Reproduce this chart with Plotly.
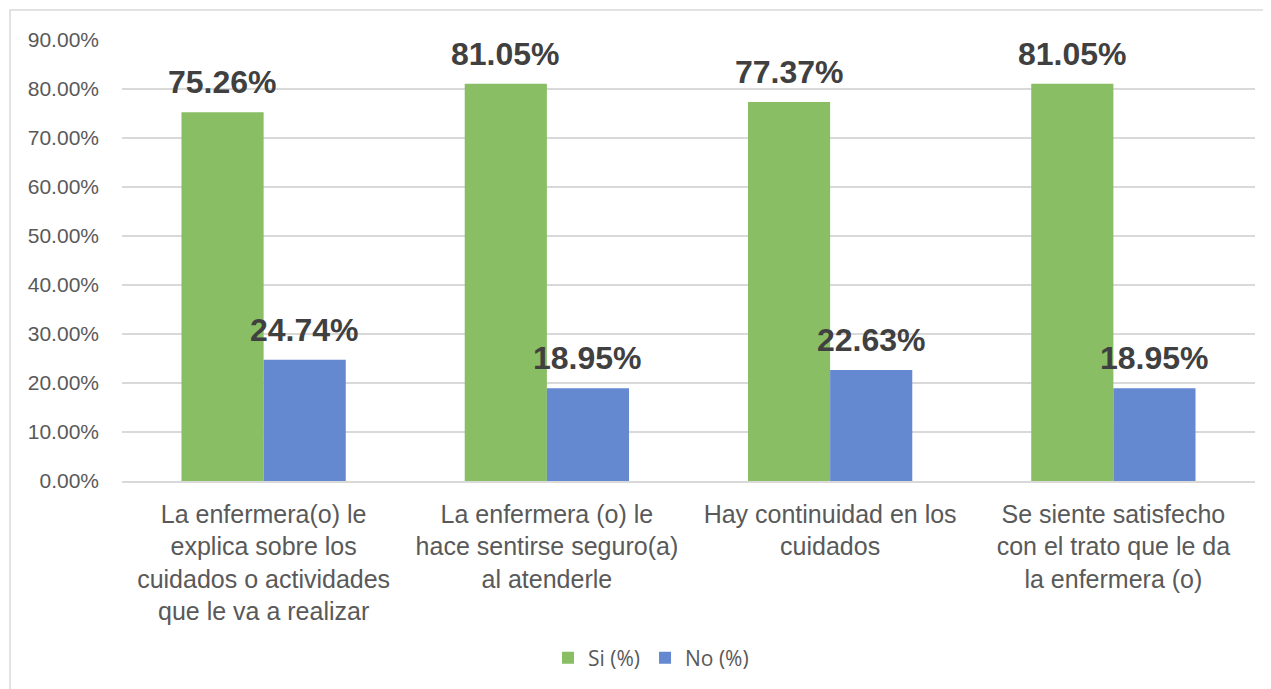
import plotly.graph_objects as go

categories = [
    "La enfermera(o) le<br>explica sobre los<br>cuidados o actividades<br>que le va a realizar",
    "La enfermera (o) le<br>hace sentirse seguro(a)<br>al atenderle",
    "Hay continuidad en los<br>cuidados",
    "Se siente satisfecho<br>con el trato que le da<br>la enfermera (o)",
]
si_values = [75.26, 81.05, 77.37, 81.05]
no_values = [24.74, 18.95, 22.63, 18.95]
series_names = ["Si (%)", "No (%)"]
tick_vals = [0, 10, 20, 30, 40, 50, 60, 70, 80, 90]
tick_text = [f"{v:.2f}%" for v in tick_vals]

OFF = 8  # page body margin
W, H = 1271 - OFF, 689 - OFF
L, R, T, B = 122 - OFF, 16, 40 - OFF, 208
pw = W - L - R
ph = H - T - B
BARGAP = 0.42
bar_px = pw / len(categories) * (1 - BARGAP) / 2

fig = go.Figure()
for name, vals, col, sh in [(series_names[0], si_values, "#89BE64", -1),
                            (series_names[1], no_values, "#6489D0", 1)]:
    fig.add_trace(go.Bar(
        x=categories, y=vals, name=name,
        marker=dict(color=col, line=dict(width=0)),
    ))
    for c, v in zip(categories, vals):
        fig.add_annotation(x=c, y=v, text=f"{v:.2f}%", showarrow=False,
                           xshift=sh * bar_px / 2, yshift=10, yanchor="bottom",
                           font=dict(family="Liberation Sans, Arial", size=32,
                                     color="#404040", weight="bold"))

fig.add_shape(type="rect", xref="paper", yref="paper",
              x0=(10 - OFF - L) / pw, x1=(W + 5 - L) / pw,
              y0=(H - B - (H + 5)) / ph, y1=(H - B - (10 - OFF)) / ph,
              line=dict(color="#D9D9D9", width=1.5), fillcolor="rgba(0,0,0,0)", layer="below")

fig.update_layout(
    width=W, height=H,
    margin=dict(l=L, r=R, t=T, b=B, autoexpand=False),
    paper_bgcolor="white", plot_bgcolor="white",
    barmode="group", bargap=BARGAP, bargroupgap=0,
    font=dict(family="Liberation Sans, Arial", color="#595959"),
    legend=dict(orientation="h", x=(651 - 122) / 1133, xanchor="center",
                y=(H - B - (658 - OFF)) / ph, yanchor="middle",
                font=dict(family="Open Sans, Liberation Sans", size=21, color="#595959"),
                traceorder="normal"),
    xaxis=dict(tickfont=dict(size=25, color="#595959"), showline=True, linecolor="#D9D9D9",
               linewidth=1.5, ticks="", ticklabelstandoff=10),
    yaxis=dict(range=[0, 90], tickvals=tick_vals, ticktext=tick_text,
               tickfont=dict(size=21, color="#595959"), gridcolor="#D9D9D9", gridwidth=1.5,
               zeroline=False, ticks="", ticklabelstandoff=22),
)

fig.write_html("out.html")
